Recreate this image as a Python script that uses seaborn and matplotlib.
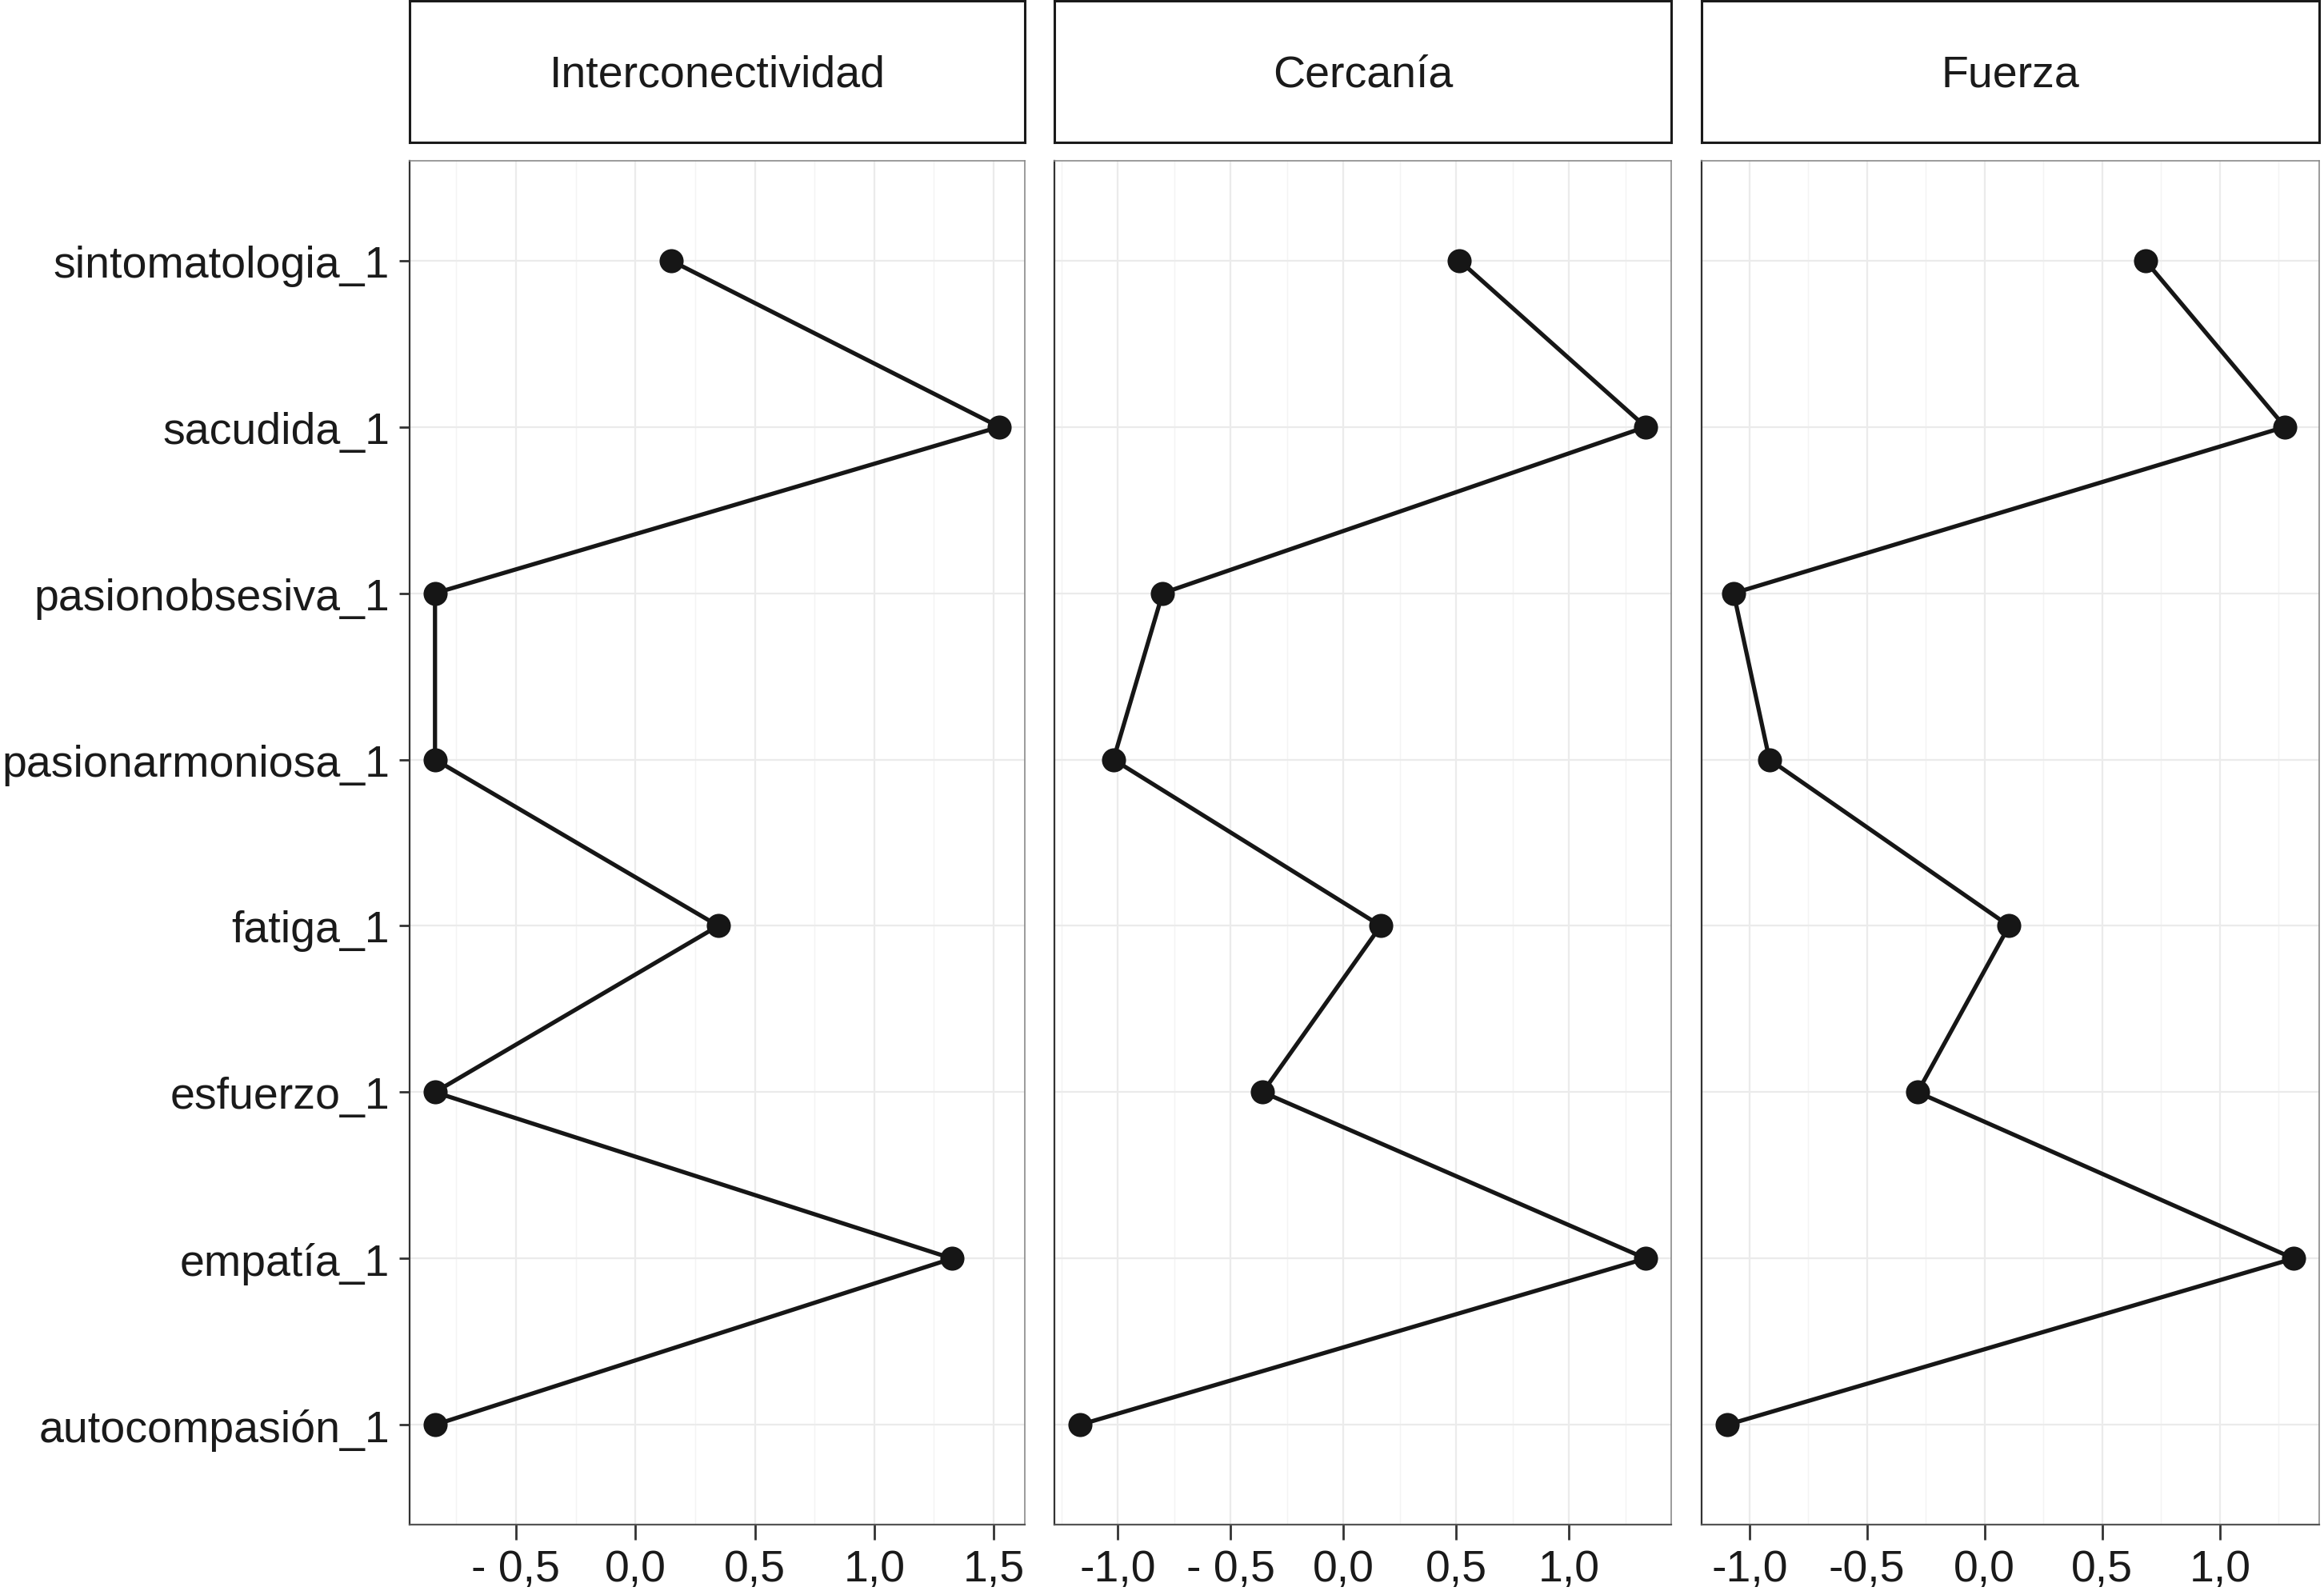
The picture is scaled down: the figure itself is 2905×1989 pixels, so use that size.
import numpy as np
import pandas as pd
import matplotlib
matplotlib.use("Agg")
import matplotlib.pyplot as plt
from matplotlib.ticker import MultipleLocator, FixedLocator
import seaborn as sns

sns.set_style("white")
plt.rcParams['font.family'] = ['Liberation Sans', 'DejaVu Sans']

# values (one series per factor, rows top -> bottom)
variables = ["sintomatologia_1", "sacudida_1", "pasionobsesiva_1", "pasionarmoniosa_1",
             "fatiga_1", "esfuerzo_1", "empatía_1", "autocompasión_1"]
factores = ["Interconectividad", "Cercanía", "Fuerza"]
interconectividad = [0.149, 1.524, -0.839, -0.839, 0.347, -0.839, 1.326, -0.839]
cercania = [0.515, 1.341, -0.801, -1.019, 0.166, -0.357, 1.341, -1.168]
fuerza = [0.683, 1.277, -1.067, -0.915, 0.104, -0.285, 1.314, -1.095]

x_ticks = [[-0.5, 0.0, 0.5, 1.0, 1.5],
           [-1.0, -0.5, 0.0, 0.5, 1.0],
           [-1.0, -0.5, 0.0, 0.5, 1.0]]
x_ticklabels = [["- 0,5", "0,0", "0,5", "1,0", "1,5"],
                ["-1,0", "- 0,5", "0,0", "0,5", "1,0"],
                ["-1,0", "-0,5", "0,0", "0,5", "1,0"]]

df = pd.DataFrame({
    "variable": variables * 3,
    "factor": np.repeat(factores, len(variables)),
    "valor": interconectividad + cercania + fuerza,
})

W, H = 2905, 1990
ink = "#161616"
fig = plt.figure(figsize=(W / 100, H / 100), dpi=100)

panel_x = [(512, 1281), (1318, 2089), (2127, 2899)]
panel_top, panel_bot = 202, 1907
strip_top, strip_bot = 2, 179

for i, fac in enumerate(factores):
    x0, x1 = panel_x[i]
    ax = fig.add_axes([x0 / W, 1 - panel_bot / H, (x1 - x0) / W, (panel_bot - panel_top) / H])
    sub = df[df.factor == fac]

    sns.lineplot(data=sub, x="valor", y="variable", sort=False, estimator=None,
                 orient="y", color=ink, lw=3.8, ax=ax, zorder=2)
    sns.scatterplot(data=sub, x="valor", y="variable", color=ink, s=470,
                    linewidth=0, ax=ax, zorder=3)

    ax.margins(x=0.045)
    ax.set_ylim(len(variables) - 0.4, -0.6)
    ax.set_xlabel("")
    ax.set_ylabel("")

    ax.xaxis.set_major_locator(FixedLocator(x_ticks[i]))
    ax.set_xticklabels(x_ticklabels[i])
    ax.xaxis.set_minor_locator(MultipleLocator(0.25))
    ax.set_axisbelow(True)
    ax.grid(which="major", axis="both", color="#ebebeb", lw=1.6)
    ax.grid(which="minor", axis="x", color="#f3f3f3", lw=1.0)

    ax.tick_params(axis="x", which="major", bottom=True, length=13.5, width=2.0,
                   color="#333333", labelsize=40, labelcolor="#1a1a1a", pad=8)
    ax.tick_params(axis="x", which="minor", length=0)
    if i == 0:
        ax.tick_params(axis="y", left=True, length=9.5, width=2.0, color="#333333",
                       labelsize=40, labelcolor="#1a1a1a", pad=8.5)
    else:
        ax.tick_params(axis="y", left=False, labelleft=False)

    for side, sp in ax.spines.items():
        sp.set_color("#8a8a8a")
        sp.set_linewidth(1.2)
    ax.spines["left"].set_color("#333333")
    ax.spines["left"].set_linewidth(1.6)
    ax.spines["bottom"].set_color("#555555")
    ax.spines["bottom"].set_linewidth(1.6)

    # strip on top of the panel
    sx = fig.add_axes([x0 / W, 1 - strip_bot / H, (x1 - x0) / W, (strip_bot - strip_top) / H])
    sx.set_xticks([])
    sx.set_yticks([])
    sx.set_facecolor("white")
    for sp in sx.spines.values():
        sp.set_color("#1a1a1a")
        sp.set_linewidth(2.2)
    sx.text(0.5, 0.48, fac, ha="center", va="center", fontsize=40, color="#1a1a1a",
            transform=sx.transAxes)

fig.savefig("out.png", dpi=100, facecolor="white")
